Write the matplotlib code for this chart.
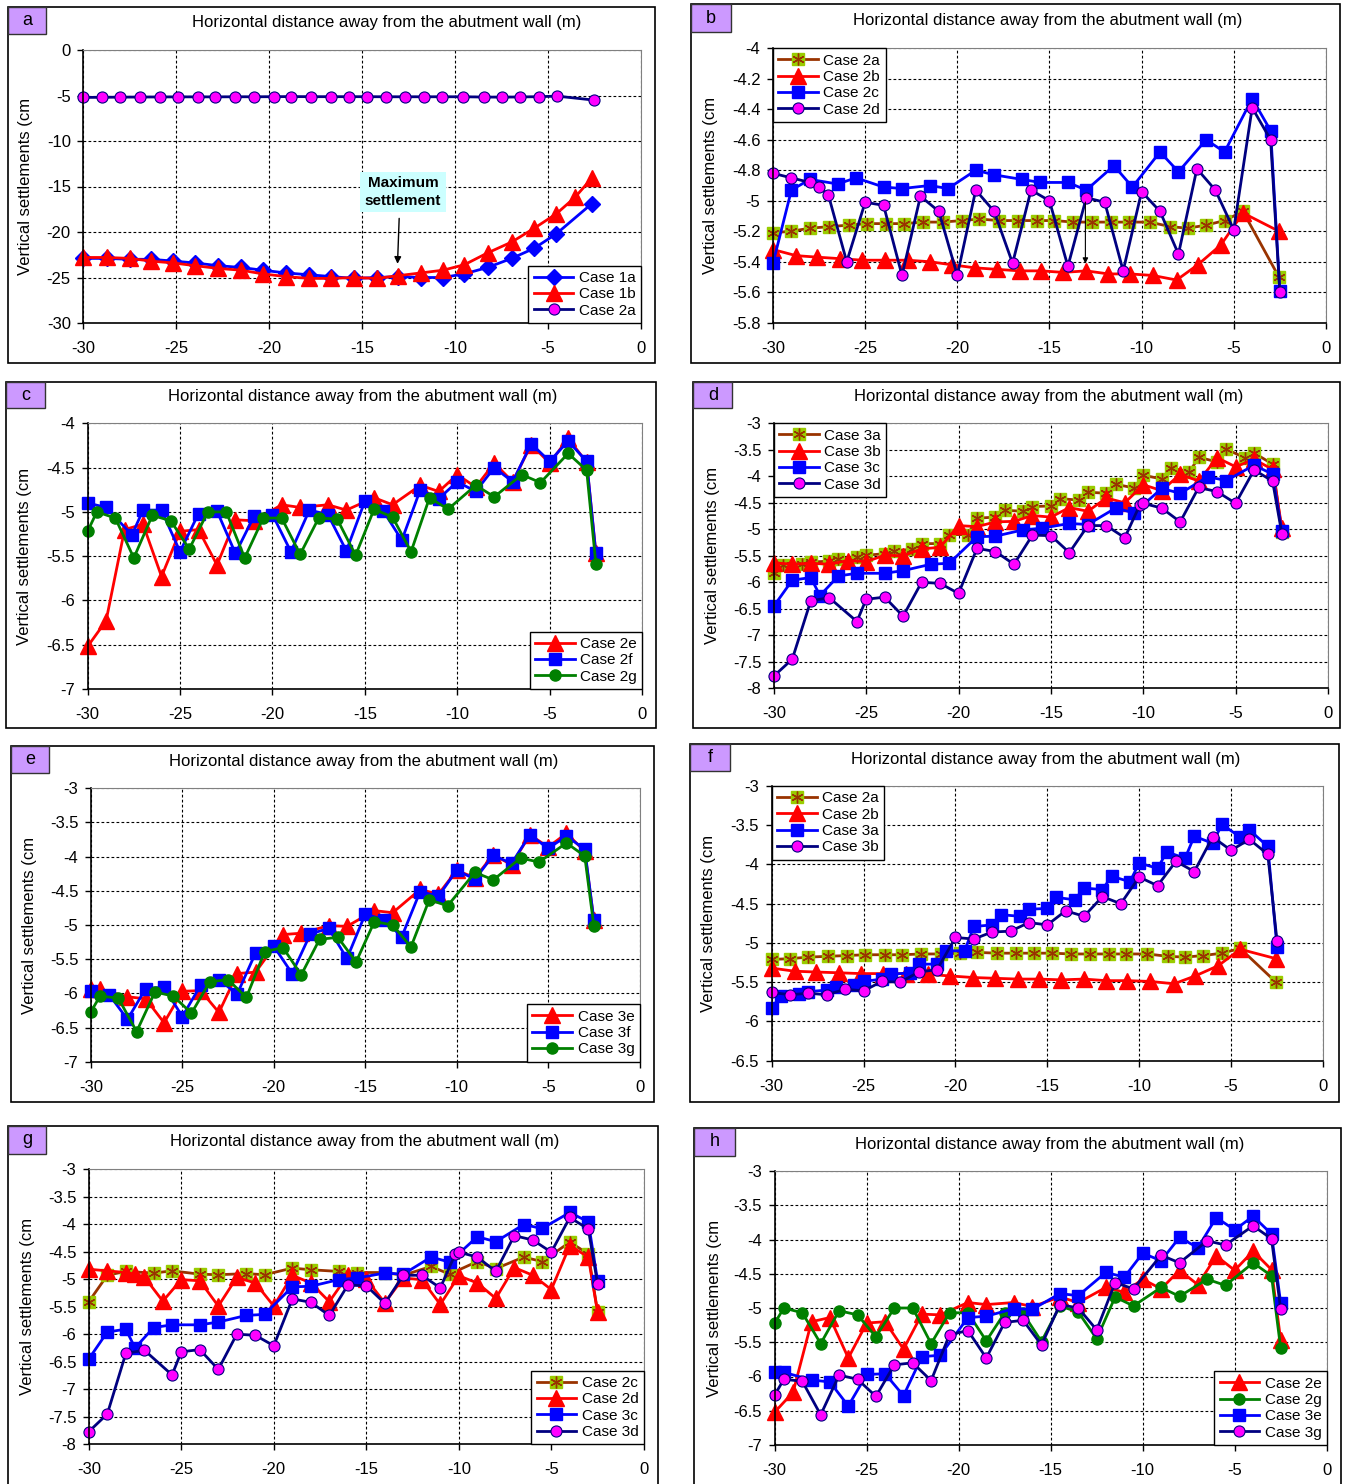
"""
Vertical settlements behind the abutment wall - 8 panel comparison (a-h)
"""

import matplotlib
matplotlib.use("Agg")
import matplotlib.pyplot as plt
import numpy as np
from matplotlib.patches import Rectangle
from matplotlib.ticker import FormatStrFormatter

# ---------------------------------------------------------------------------
# Data
# ---------------------------------------------------------------------------

X_1A = [-30, -28.75, -27.5, -26.35, -25.15, -24, -22.75, -21.5, -20.35, -19.1, -17.85, -16.65,
        -15.45, -14.2, -13.05, -11.85, -10.65, -9.5, -8.25, -6.95, -5.75, -4.55, -2.65]
Y_1A = [-22.9, -22.9, -23.0, -23.0, -23.2, -23.4, -23.7, -23.9, -24.2, -24.5, -24.7, -24.9,
        -25.1, -25.0, -24.9, -25.0, -25.0, -24.6, -23.9, -22.9, -21.8, -20.2, -16.9]

X_1B = [-30, -28.75, -27.5, -26.35, -25.15, -24, -22.75, -21.5, -20.35, -19.1, -17.85, -16.65,
        -15.45, -14.2, -13.05, -11.85, -10.65, -9.5, -8.25, -6.95, -5.75, -4.55, -3.55, -2.65]
Y_1B = [-22.8, -22.8, -22.9, -23.2, -23.4, -23.7, -24.0, -24.2, -24.6, -24.9, -25.1, -25.1,
        -25.0, -25.1, -24.8, -24.5, -24.2, -23.6, -22.3, -21.1, -19.6, -18.0, -16.2, -14.1]

X_2A = [-30, -29, -28, -26.95, -25.9, -24.9, -23.85, -22.9, -21.85, -20.8, -19.75, -18.8, -17.75,
        -16.7, -15.7, -14.75, -13.7, -12.7, -11.65, -10.7, -9.55, -8.45, -7.5, -6.5, -5.5, -4.5, -2.55]
Y_2A = [-5.21, -5.20, -5.18, -5.17, -5.16, -5.15, -5.15, -5.15, -5.14, -5.14, -5.13, -5.12, -5.13,
        -5.13, -5.13, -5.13, -5.14, -5.14, -5.14, -5.14, -5.14, -5.17, -5.18, -5.16, -5.13, -5.07, -5.50]

X_2B = [-30, -28.75, -27.6, -26.35, -25.15, -23.95, -22.7, -21.5, -20.3, -19.05, -17.85, -16.6,
        -15.45, -14.25, -13.0, -11.8, -10.65, -9.4, -8.1, -6.95, -5.7, -4.5, -2.55]
Y_2B = [-5.32, -5.36, -5.37, -5.38, -5.39, -5.39, -5.39, -5.40, -5.42, -5.44, -5.45, -5.46,
        -5.46, -5.47, -5.46, -5.48, -5.48, -5.49, -5.52, -5.42, -5.29, -5.08, -5.20]

X_2C = [-30, -29, -28, -26.5, -25.5, -24, -23, -21.5, -20.5, -19, -18, -16.5, -15.5, -14, -13,
        -11.5, -10.5, -9, -8, -6.5, -5.5, -4, -3, -2.5]
Y_2C = [-5.41, -4.93, -4.86, -4.89, -4.85, -4.91, -4.92, -4.90, -4.92, -4.80, -4.83, -4.86, -4.88,
        -4.88, -4.93, -4.77, -4.91, -4.68, -4.81, -4.60, -4.68, -4.33, -4.54, -5.59]

X_2D = [-30, -29, -28, -27.5, -27, -26, -25, -24, -23, -22, -21, -20, -19, -18, -17, -16, -15,
        -14, -13, -12, -11, -10, -9, -8, -7, -6, -5, -4, -3, -2.5]
Y_2D = [-4.82, -4.85, -4.88, -4.91, -4.96, -5.40, -5.01, -5.03, -5.49, -4.97, -5.07, -5.49, -4.93,
        -5.07, -5.41, -4.93, -5.00, -5.43, -4.98, -5.01, -5.46, -4.94, -5.07, -5.35, -4.79, -4.93,
        -5.19, -4.39, -4.60, -5.60]

X_2E = [-30, -29, -28, -27, -26, -25, -24, -23, -22, -21, -19.5, -18.5, -17, -16, -14.5, -13.5,
        -12, -11, -10, -9, -8, -7, -6, -5, -4, -3, -2.5]
Y_2E = [-6.52, -6.23, -5.20, -5.14, -5.73, -5.22, -5.20, -5.60, -5.09, -5.10, -4.92, -4.95, -4.92,
        -4.98, -4.84, -4.92, -4.70, -4.77, -4.58, -4.72, -4.45, -4.66, -4.24, -4.45, -4.17, -4.44, -5.47]

X_2F = [-30, -29, -27.6, -27, -26, -25, -24, -23, -22, -21, -20, -19, -18, -17, -16, -15, -14,
        -13, -12, -11, -10, -9, -8, -7, -6, -5, -4, -3, -2.5]
Y_2F = [-4.90, -4.95, -5.26, -4.98, -4.98, -5.45, -5.02, -4.99, -5.47, -5.05, -5.03, -5.45, -4.98,
        -5.03, -5.44, -4.88, -4.99, -5.32, -4.75, -4.85, -4.66, -4.77, -4.50, -4.66, -4.23, -4.43,
        -4.20, -4.43, -5.47]

X_2G = [-30, -29.5, -28.5, -27.5, -26.5, -25.5, -24.5, -23.5, -22.5, -21.5, -20.5, -19.5, -18.5,
        -17.5, -16.5, -15.5, -14.5, -13.5, -12.5, -11.5, -10.5, -9, -8, -6.5, -5.5, -4, -3, -2.5]
Y_2G = [-5.22, -5.00, -5.07, -5.52, -5.04, -5.10, -5.42, -5.00, -5.00, -5.52, -5.07, -5.07, -5.48,
        -5.07, -5.08, -5.49, -4.97, -5.06, -5.45, -4.84, -4.97, -4.70, -4.83, -4.58, -4.67, -4.34,
        -4.53, -5.59]

X_3A = [-30, -29.5, -28.5, -28, -27, -26.5, -25.5, -25, -24, -23.5, -22.5, -22, -21, -20.5, -19.5,
        -19, -18, -17.5, -16.5, -16, -15, -14.5, -13.5, -13, -12, -11.5, -10.5, -10, -9, -8.5,
        -7.5, -7, -6, -5.5, -4.5, -4, -3, -2.5]
Y_3A = [-5.83, -5.67, -5.65, -5.62, -5.60, -5.56, -5.53, -5.49, -5.46, -5.40, -5.38, -5.27, -5.27,
        -5.10, -5.10, -4.79, -4.77, -4.64, -4.66, -4.57, -4.56, -4.42, -4.45, -4.30, -4.32, -4.15,
        -4.22, -3.98, -4.05, -3.84, -3.92, -3.64, -3.73, -3.49, -3.65, -3.56, -3.77, -5.05]

X_3B = [-30, -29, -28, -27, -26, -25, -24, -23, -22, -21, -20, -19, -18, -17, -16, -15, -14,
        -13, -12, -11, -10, -9, -8, -7, -6, -5, -4, -3, -2.5]
Y_3B = [-5.63, -5.66, -5.64, -5.66, -5.59, -5.61, -5.49, -5.50, -5.37, -5.34, -4.93, -4.95, -4.86,
        -4.85, -4.74, -4.77, -4.59, -4.66, -4.41, -4.50, -4.16, -4.27, -3.96, -4.09, -3.65, -3.82,
        -3.68, -3.87, -4.97]

X_3C = [-30, -29, -28, -27.5, -26.5, -25.5, -24, -23, -21.5, -20.5, -19, -18, -16.5, -15.5, -14,
        -13, -11.5, -10.5, -9, -8, -6.5, -5.5, -4, -3, -2.5]
Y_3C = [-6.45, -5.96, -5.91, -6.25, -5.88, -5.83, -5.83, -5.78, -5.66, -5.64, -5.14, -5.13, -5.01,
        -4.98, -4.89, -4.91, -4.60, -4.69, -4.23, -4.32, -4.01, -4.08, -3.79, -3.96, -5.03]

X_3D = [-30, -29, -28, -27, -25.5, -25, -24, -23, -22, -21, -20, -19, -18, -17, -16, -15, -14,
        -13, -12, -11, -10.2, -10, -9, -8, -7, -6, -5, -4, -3, -2.5]
Y_3D = [-7.77, -7.45, -6.35, -6.29, -6.74, -6.32, -6.28, -6.64, -6.00, -6.02, -6.21, -5.36, -5.42,
        -5.66, -5.11, -5.12, -5.44, -4.93, -4.93, -5.16, -4.55, -4.51, -4.60, -4.86, -4.21, -4.29,
        -4.51, -3.88, -4.09, -5.08]

X_3E = [-30, -29.5, -28, -27, -26, -25, -24, -23, -22, -21, -19.5, -18.5, -17, -16, -14.5, -13.5,
        -12, -11, -10, -9, -8, -7, -6, -5, -4, -3, -2.5]
Y_3E = [-5.93, -5.94, -6.05, -6.08, -6.43, -5.97, -5.96, -6.28, -5.71, -5.69, -5.14, -5.12, -5.01,
        -5.02, -4.79, -4.82, -4.48, -4.55, -4.20, -4.31, -3.97, -4.12, -3.68, -3.86, -3.66, -3.92, -4.93]

X_3F = [-30, -29, -28, -27, -26, -25, -24, -23, -22, -21, -20, -19, -18, -17, -16, -15, -14,
        -13, -12, -11, -10, -9, -8, -7, -6, -5, -4, -3, -2.5]
Y_3F = [-5.96, -6.02, -6.38, -5.93, -5.91, -6.34, -5.88, -5.80, -6.01, -5.41, -5.31, -5.71, -5.13,
        -5.05, -5.49, -4.84, -4.92, -5.17, -4.51, -4.58, -4.20, -4.33, -3.98, -4.10, -3.68, -3.88,
        -3.70, -3.89, -4.93]

X_3G = [-30, -29.5, -28.5, -27.5, -26.5, -25.5, -24.5, -23.5, -22.5, -21.5, -20.5, -19.5, -18.5,
        -17.5, -16.5, -15.5, -14.5, -13.5, -12.5, -11.5, -10.5, -9, -8, -6.5, -5.5, -4, -3, -2.5]
Y_3G = [-6.27, -6.04, -6.07, -6.56, -5.98, -6.04, -6.29, -5.83, -5.80, -6.06, -5.39, -5.33, -5.73,
        -5.21, -5.18, -5.54, -4.95, -5.00, -5.32, -4.63, -4.72, -4.23, -4.34, -4.02, -4.08, -3.80,
        -3.99, -5.02]

TITLE = "Horizontal distance away from the abutment wall (m)"
YLABEL = "Vertical settlements (cm"

# ---------------------------------------------------------------------------
# Layout (pixel positions in the 1346 x 1484 image)
# ---------------------------------------------------------------------------

W, H = 1346, 1484

PANELS = [
    dict(tag="a", frame=(7.6, 6.7, 654.8, 363), box=(7.6, 6.7, 46.5, 34.3),
         plot=(83.3, 640.9, 50, 323), ylim=(-30, 0), ystep=5, title=(387, 22.7), ylab=26,
         loc="lower right",
         series=[(X_1A, Y_1A, "dia", "Case 1a"), (X_1B, Y_1B, "tri", "Case 1b"),
                 (X_2A, Y_2A, "circ", "Case 2a")]),
    dict(tag="b", frame=(691.3, 4.3, 1339.8, 363.3), box=(691.3, 4.3, 730.7, 32.3),
         plot=(773, 1325.9, 48.3, 322.7), ylim=(-5.8, -4), ystep=0.2, title=(1048, 20.7), ylab=711,
         loc="upper left",
         series=[(X_2A, Y_2A, "star", "Case 2a"), (X_2B, Y_2B, "tri", "Case 2b"),
                 (X_2C, Y_2C, "sq", "Case 2c"), (X_2D, Y_2D, "circ", "Case 2d")]),
    dict(tag="c", frame=(6.3, 381.7, 655.7, 728.3), box=(6.3, 381.7, 45.3, 408.3),
         plot=(87.6, 642.1, 423.3, 689), ylim=(-7, -4), ystep=0.5, title=(362.5, 396.7), ylab=25,
         loc="lower right",
         series=[(X_2E, Y_2E, "tri", "Case 2e"), (X_2F, Y_2F, "sq", "Case 2f"),
                 (X_2G, Y_2G, "gcirc", "Case 2g")]),
    dict(tag="d", frame=(693.5, 382.3, 1339.8, 727.7), box=(693.5, 382.3, 732.4, 408.3),
         plot=(773.8, 1328, 423.3, 688.3), ylim=(-8, -3), ystep=0.5, title=(1048.8, 396.7), ylab=712.5,
         loc="upper left",
         series=[(X_3A, Y_3A, "star", "Case 3a"), (X_3B, Y_3B, "tri", "Case 3b"),
                 (X_3C, Y_3C, "sq", "Case 3c"), (X_3D, Y_3D, "circ", "Case 3d")]),
    dict(tag="e", frame=(10.6, 745.7, 653.6, 1101.7), box=(10.6, 745.7, 49.5, 773.3),
         plot=(90.9, 639.6, 788.3, 1061.7), ylim=(-7, -3), ystep=0.5, title=(363.8, 761.7), ylab=29.6,
         loc="lower right",
         series=[(X_3E, Y_3E, "tri", "Case 3e"), (X_3F, Y_3F, "sq", "Case 3f"),
                 (X_3G, Y_3G, "gcirc", "Case 3g")]),
    dict(tag="f", frame=(690, 744, 1338.6, 1101.7), box=(690, 744, 730, 771),
         plot=(771.7, 1322.9, 786, 1060.7), ylim=(-6.5, -3), ystep=0.5, title=(1045.4, 759.3), ylab=709,
         loc="upper left",
         series=[(X_2A, Y_2A, "star", "Case 2a"), (X_2B, Y_2B, "tri", "Case 2b"),
                 (X_3A, Y_3A, "sq", "Case 3a"), (X_3B, Y_3B, "circ", "Case 3b")]),
    dict(tag="g", frame=(7.6, 1125.7, 657.8, 1500), box=(7.6, 1125.7, 46.5, 1154),
         plot=(88.8, 643.8, 1169, 1444.3), ylim=(-8, -3), ystep=0.5, title=(364.6, 1141.7), ylab=27.5,
         loc="lower right",
         series=[(X_2C, Y_2C, "star", "Case 2c"), (X_2D, Y_2D, "tri", "Case 2d"),
                 (X_3C, Y_3C, "sq", "Case 3c"), (X_3D, Y_3D, "circ", "Case 3d")]),
    dict(tag="h", frame=(694.3, 1127.7, 1340.7, 1500), box=(694.3, 1127.7, 734.5, 1156),
         plot=(774.7, 1326.7, 1171, 1445), ylim=(-7, -3), ystep=0.5, title=(1049.6, 1144.3), ylab=714.6,
         loc="lower right",
         series=[(X_2E, Y_2E, "tri", "Case 2e"), (X_2G, Y_2G, "gcirc", "Case 2g"),
                 (X_3E, Y_3E, "sq", "Case 3e"), (X_3G, Y_3G, "circ", "Case 3g")]),
]

STYLES = {
    "tri":   dict(color="#FF0000", marker="^", ms=11.5, mfc="#FF0000", mec="#FF0000"),
    "sq":    dict(color="#0000FF", marker="s", ms=8, mfc="#0000FF", mec="#0000FF"),
    "dia":   dict(color="#0000FF", marker="D", ms=8.5, mfc="#0000FF", mec="#0000FF"),
    "circ":  dict(color="#000080", marker="o", ms=8, mfc="#FF00FF", mec="#000080", mew=0.8),
    "gcirc": dict(color="#008000", marker="o", ms=8, mfc="#008000", mec="#008000"),
}

plt.rcParams["font.family"] = ["Liberation Sans", "DejaVu Sans"]
plt.rcParams["axes.unicode_minus"] = False


def fx(px):
    return px / W


def fy(py):
    return 1 - py / H


def plot_series(ax, x, y, kind, label):
    if kind == "star":
        l1, = ax.plot(x, y, color="#993300", lw=2, marker="s", ms=8.5, mfc="#99CC00",
                      mec="#99CC00", label=label, clip_on=False)
        l2, = ax.plot(x, y, ls="none", marker=(6, 2, 0), ms=8.5, mec="#993300", mew=1.0,
                      clip_on=False)
        return (l1, l2)
    line, = ax.plot(x, y, lw=2, label=label, clip_on=False, **STYLES[kind])
    return line


fig = plt.figure(figsize=(W / 100, H / 100), dpi=100)

for p in PANELS:
    x0, y0, x1, y1 = p["frame"]
    fig.patches.append(Rectangle((fx(x0), fy(y1)), fx(x1 - x0), (y1 - y0) / H,
                                 transform=fig.transFigure, fill=False, ec="black", lw=1.2))
    bx0, by0, bx1, by1 = p["box"]
    fig.patches.append(Rectangle((fx(bx0), fy(by1)), fx(bx1 - bx0), (by1 - by0) / H,
                                 transform=fig.transFigure, fc="#CC99FF", ec="#333333", lw=1))
    fig.text(fx((bx0 + bx1) / 2), fy((by0 + by1) / 2), p["tag"], ha="center", va="center",
             fontsize=13)

    xl, xr, yt, yb = p["plot"]
    ax = fig.add_axes([fx(xl), fy(yb), fx(xr - xl), (yb - yt) / H])
    ymin, ymax = p["ylim"]
    ax.set_xlim(-30, 0)
    ax.set_ylim(ymin, ymax)
    ax.set_xticks(np.arange(-30, 1, 5))
    ax.set_yticks(np.round(np.arange(ymin, ymax + p["ystep"] / 2, p["ystep"]), 2))
    ax.xaxis.set_major_formatter(FormatStrFormatter("%g"))
    ax.yaxis.set_major_formatter(FormatStrFormatter("%g"))
    ax.tick_params(axis="both", direction="out", length=4, width=1, labelsize=12)
    ax.tick_params(axis="x", pad=9)
    ax.tick_params(axis="y", pad=5)
    ax.grid(True, color="black", ls=(0, (2.5, 2)), lw=0.8)
    ax.set_axisbelow(True)
    for side in ("left", "bottom"):
        ax.spines[side].set_color("black")
        ax.spines[side].set_linewidth(1.2)
    for side in ("top", "right"):
        ax.spines[side].set_color("#808080")
        ax.spines[side].set_linewidth(0.8)

    handles = []
    for x, y, kind, label in p["series"]:
        handles.append(plot_series(ax, x, y, kind, label))
    labels = [s[3] for s in p["series"]]
    leg = ax.legend(handles, labels, loc=p["loc"], borderaxespad=0, fontsize=11,
                    fancybox=False, framealpha=1, edgecolor="black", numpoints=1,
                    handlelength=2.6, handletextpad=0.35, labelspacing=0.15, borderpad=0.35)
    leg.get_frame().set_linewidth(1.0)
    leg.set_zorder(10)

    fig.text(fx(p["title"][0]), fy(p["title"][1]), TITLE, ha="center", va="center", fontsize=12)
    fig.text(fx(p["ylab"]), fy((yt + yb) / 2), YLABEL, ha="center", va="center",
             rotation=90, fontsize=12)

    if p["tag"] == "a":
        ax.text(-12.8, -15.6, "Maximum\nsettlement", ha="center", va="center", fontsize=11,
                fontweight="bold", linespacing=1.3,
                bbox=dict(fc="#CCFFFF", ec="none", boxstyle="square,pad=0.3"))
        ax.annotate("", xy=(-13.1, -23.8), xytext=(-13.0, -18.2),
                    arrowprops=dict(arrowstyle="-|>", color="black", lw=1, mutation_scale=10))
    if p["tag"] == "b":
        ax.annotate("", xy=(-13.05, -5.43), xytext=(-13.05, -4.99),
                    arrowprops=dict(arrowstyle="-|>", color="black", lw=0.8, mutation_scale=8))

fig.savefig("out.png", dpi=100)
